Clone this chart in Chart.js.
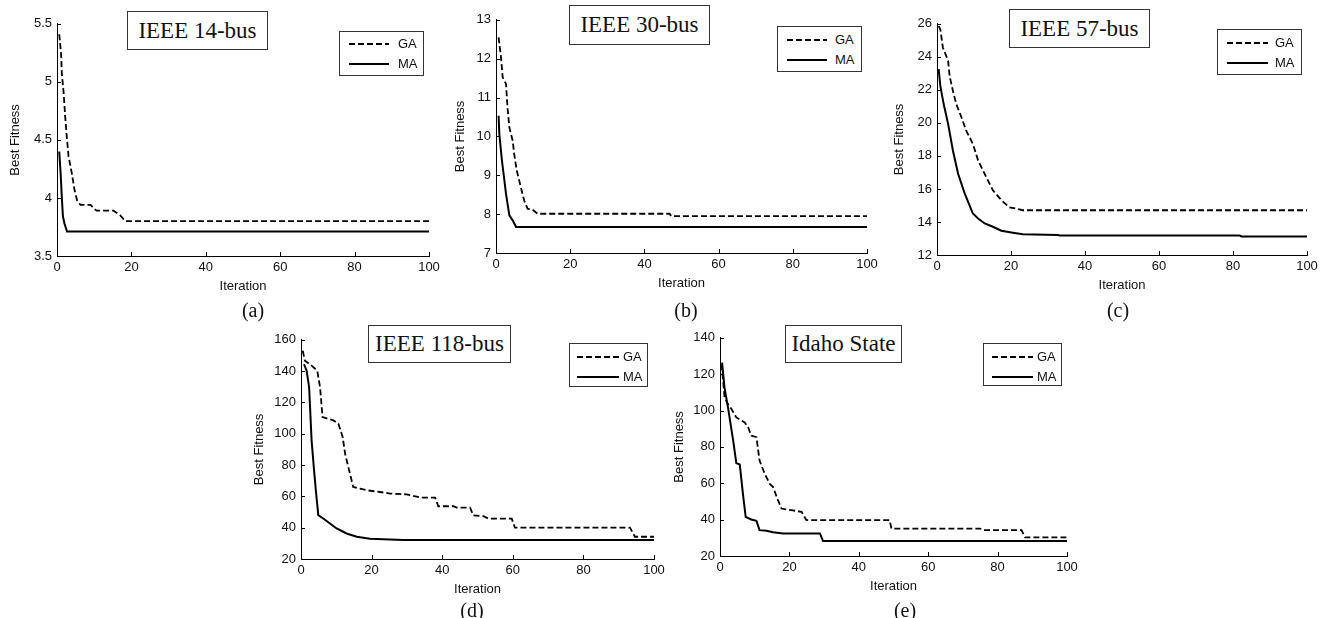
<!DOCTYPE html>
<html>
<head>
<meta charset="utf-8">
<script src="https://cdn.jsdelivr.net/npm/chart.js@4.4.0/dist/chart.umd.min.js"></script>
<style>
  body { margin: 0; background: #fff; width: 1329px; height: 618px; position: relative; overflow: hidden; }
  canvas { position: absolute; }
  .title { position: absolute; box-sizing: border-box; border: 1px solid #333; background: #fff;
    font: 23px "Liberation Serif", "Times New Roman", serif; color: #111;
    display: flex; align-items: center; justify-content: center; }
  .legend { position: absolute; box-sizing: border-box; border: 1px solid #333; background: #fff;
    font: 13px "Liberation Sans", Arial, sans-serif; color: #111; }
  .legend svg, .legend span { position: absolute; }
  .cap { position: absolute; font: 20px "Liberation Serif", "Times New Roman", serif; color: #111;
    transform: translate(-50%, -50%); }
</style>
</head>
<body>
<script>
// iteration / best fitness
const xTicks = [0, 20, 40, 60, 80, 100];

const ga14Iter = [0.6, 1.1, 1.3, 1.8, 2.2, 2.7, 3.1, 4.0, 4.7, 5.4, 6.3, 9.0, 10.6, 15.2, 17.0, 18.4, 100];
const ga14Fit  = [5.41, 5.24, 5.07, 4.90, 4.70, 4.50, 4.36, 4.21, 4.07, 3.98, 3.94, 3.94, 3.89, 3.89, 3.85, 3.80, 3.80];
const ma14Iter = [0.6, 1.0, 1.3, 1.6, 2.0, 2.7, 100];
const ma14Fit  = [4.40, 4.20, 4.00, 3.84, 3.78, 3.71, 3.71];
const y14Ticks = [3.5, 4, 4.5, 5, 5.5];

const ga30Iter = [0.7, 1.35, 1.8, 2.7, 3.1, 3.6, 4.5, 4.9, 5.6, 6.7, 7.6, 8.5, 9.9, 11.2, 46.8, 47.2, 100];
const ga30Fit  = [12.55, 12.03, 11.52, 11.35, 10.75, 10.23, 9.89, 9.55, 9.12, 8.69, 8.35, 8.14, 8.11, 8.01, 8.01, 7.95, 7.95];
const ma30Iter = [0.7, 0.9, 1.6, 2.7, 3.6, 4.5, 5.4, 100];
const ma30Fit  = [10.53, 10.06, 9.38, 8.52, 7.97, 7.84, 7.67, 7.67];
const y30Ticks = [7, 8, 9, 10, 11, 12, 13];

const ga57Iter = [0.45, 0.9, 1.6, 2.5, 3.0, 3.4, 4.3, 5.2, 6.6, 7.9, 9.7, 11.1, 13.3, 15.1, 17.4, 19.6, 21.4, 23.2, 100];
const ga57Fit  = [25.86, 25.66, 24.55, 24.05, 23.75, 22.85, 21.94, 21.14, 20.34, 19.53, 18.73, 17.73, 16.72, 15.92, 15.32, 14.88, 14.81, 14.71, 14.71];
const ma57Iter = [0.45, 0.9, 1.8, 3.0, 4.3, 5.7, 7.5, 9.7, 11.1, 12.9, 15.1, 17.4, 20.5, 23.2, 32.7, 33.2, 81.8, 82.3, 100];
const ma57Fit  = [23.25, 22.24, 21.14, 19.94, 18.33, 16.92, 15.72, 14.51, 14.21, 13.91, 13.71, 13.47, 13.35, 13.25, 13.21, 13.18, 13.18, 13.12, 13.12];
const y57Ticks = [12, 14, 16, 18, 20, 22, 24, 26];

const ga118Iter = [0.5, 1.1, 3.0, 4.6, 5.4, 6.1, 7.7, 9.2, 10.6, 11.8, 12.5, 13.4, 14.8, 16.7, 18.6, 22.4, 25.2, 29.9, 31.8, 34.2, 38.0, 38.9, 43.2, 44.1, 47.9, 48.8, 51.7, 53.1, 59.7, 60.6, 93.2, 94.6, 100];
const ga118Fit  = [153, 146.6, 143.5, 140.3, 129.7, 110.6, 109.5, 108.5, 106.4, 97.9, 87.2, 78.8, 66.0, 65.0, 63.9, 62.8, 61.8, 61.3, 60.3, 59.2, 59.2, 53.7, 53.7, 52.8, 52.8, 47.9, 47.3, 45.8, 45.8, 40.0, 40.0, 34.2, 34.2];
const ma118Iter = [0.85, 1.6, 2.3, 3.0, 3.7, 4.2, 4.9, 6.3, 8.2, 10.1, 12.9, 15.8, 19.5, 25.2, 29, 100];
const ma118Fit  = [144.5, 140.3, 129.7, 95.8, 76.6, 63.9, 48, 45.9, 42.7, 39.5, 36.3, 34.2, 32.9, 32.5, 32.1, 32.1];
const y118Ticks = [20, 40, 60, 80, 100, 120, 140, 160];

const gaIdIter = [0.4, 0.9, 1.3, 2.3, 3.3, 4.7, 7.1, 8.1, 9.0, 10.5, 11.4, 12.9, 14.3, 15.3, 16.7, 17.7, 20.6, 23.5, 24.9, 48.9, 49.4, 74.9, 75.9, 86.9, 87.9, 100];
const gaIdFit  = [125.4, 116.3, 107.2, 103.5, 100.8, 96.2, 93.5, 90.8, 86.2, 85.3, 72.5, 65.2, 59.8, 57.9, 50.7, 46.1, 45.2, 44.3, 39.7, 39.7, 35.1, 35.1, 34.2, 34.2, 30.2, 30.2];
const maIdIter = [0.6, 1.3, 2.3, 3.8, 4.7, 5.7, 6.6, 7.4, 9.0, 10.5, 11.4, 13.4, 15.3, 18.2, 28.8, 29.7, 100];
const maIdFit  = [126.3, 112.6, 101.7, 83.5, 71.1, 70.3, 54.3, 41.5, 40.1, 39.3, 34.2, 33.9, 33.1, 32.4, 32.4, 28.2, 28.2];
const yIdTicks = [20, 40, 60, 80, 100, 120, 140];

const seriesNames = ["GA", "MA"];

// page layout: plot area box, y label centre, title box, legend box + row layout, caption centre
const panels = [
  { title: "IEEE 14-bus", cap: "(a)", ga: [ga14Iter, ga14Fit], ma: [ma14Iter, ma14Fit], yTicks: y14Ticks,
    area: [57, 23, 429, 256], labelX: 15, tbox: [127, 11, 141, 39],
    lbox: [339, 31, 85, 45], lrow: [9, 40, 58, 12], capXY: [253, 310] },
  { title: "IEEE 30-bus", cap: "(b)", ga: [ga30Iter, ga30Fit], ma: [ma30Iter, ma30Fit], yTicks: y30Ticks,
    area: [496, 19, 867, 253], labelX: 460, tbox: [569, 5, 141, 40],
    lbox: [777, 26, 85, 46], lrow: [9, 40, 57, 13], capXY: [686, 310] },
  { title: "IEEE 57-bus", cap: "(c)", ga: [ga57Iter, ga57Fit], ma: [ma57Iter, ma57Fit], yTicks: y57Ticks,
    area: [937, 23, 1307, 255], labelX: 899, tbox: [1009, 9, 141, 39],
    lbox: [1217, 29, 85, 46], lrow: [9, 41, 57, 13], capXY: [1118, 310] },
  { title: "IEEE 118-bus", cap: "(d)", ga: [ga118Iter, ga118Fit], ma: [ma118Iter, ma118Fit], yTicks: y118Ticks,
    area: [301, 339, 654, 559], labelX: 259, tbox: [368, 325, 143, 38],
    lbox: [569, 343, 79, 44], lrow: [7, 42, 53, 13], capXY: [472, 610] },
  { title: "Idaho State", cap: "(e)", ga: [gaIdIter, gaIdFit], ma: [maIdIter, maIdFit], yTicks: yIdTicks,
    area: [720, 337, 1067, 556], labelX: 679, tbox: [785, 325, 117, 38],
    lbox: [983, 343, 79, 43], lrow: [8, 41, 53, 13], capXY: [905, 610] }
];

const Y_W = 57, PAD_T = 12, PAD_R = 16, X_H = 44;
const tickFont = { family: "'Liberation Sans', Arial, sans-serif", size: 13 };

// MATLAB style tick marks pointing into the plot
const inwardTicks = {
  id: "inwardTicks",
  afterDraw(chart) {
    const { ctx, chartArea: a, scales: { x, y } } = chart;
    ctx.save();
    ctx.strokeStyle = "#000";
    ctx.lineWidth = 1;
    ctx.beginPath();
    x.ticks.forEach(t => {
      const px = Math.round(x.getPixelForValue(t.value)) + 0.5;
      ctx.moveTo(px, a.bottom); ctx.lineTo(px, a.bottom - 4);
    });
    y.ticks.forEach(t => {
      const py = Math.round(y.getPixelForValue(t.value)) + 0.5;
      ctx.moveTo(a.left, py); ctx.lineTo(a.left + 4, py);
    });
    ctx.stroke();
    ctx.restore();
  }
};

function pts(pair) {
  return pair[0].map((v, i) => ({ x: v, y: pair[1][i] }));
}

function box(cls, b) {
  const d = document.createElement("div");
  d.className = cls;
  d.style.left = b[0] + "px"; d.style.top = b[1] + "px";
  d.style.width = b[2] + "px"; d.style.height = b[3] + "px";
  document.body.appendChild(d);
  return d;
}

panels.forEach(p => {
  const [x0, y0, x1, y1] = p.area;
  const left = x0 - Y_W, top = y0 - PAD_T;
  const canvas = document.createElement("canvas");
  canvas.width = (x1 - x0) + Y_W + PAD_R;
  canvas.height = (y1 - y0) + PAD_T + X_H;
  canvas.style.left = left + "px";
  canvas.style.top = top + "px";
  document.body.appendChild(canvas);

  const yt = p.yTicks;
  new Chart(canvas.getContext("2d"), {
    type: "line",
    data: {
      datasets: [
        { label: seriesNames[0], data: pts(p.ga), borderColor: "#000", borderWidth: 1.8, borderDash: [6, 3] },
        { label: seriesNames[1], data: pts(p.ma), borderColor: "#000", borderWidth: 2 }
      ]
    },
    options: {
      responsive: false,
      animation: false,
      devicePixelRatio: 1,
      elements: { point: { radius: 0 }, line: { tension: 0, fill: false } },
      layout: { padding: { top: PAD_T, right: PAD_R, left: 0, bottom: 0 } },
      plugins: { legend: { display: false }, tooltip: { enabled: false } },
      scales: {
        x: {
          type: "linear", min: xTicks[0], max: xTicks[xTicks.length - 1],
          afterFit: s => { s.height = X_H; },
          grid: { display: false, drawTicks: false },
          border: { display: true, color: "#000", width: 1 },
          ticks: { stepSize: xTicks[1] - xTicks[0], autoSkip: false, maxRotation: 0, padding: 4,
                   color: "#111", font: tickFont },
          title: { display: true, text: "Iteration", color: "#111", font: tickFont, padding: { top: 0, bottom: 6 } }
        },
        y: {
          type: "linear", min: yt[0], max: yt[yt.length - 1],
          afterFit: s => { s.width = Y_W; },
          grid: { display: false, drawTicks: false },
          border: { display: true, color: "#000", width: 1 },
          ticks: { stepSize: yt[1] - yt[0], autoSkip: false, padding: 5, color: "#111", font: tickFont,
                   callback: v => String(v) },
          title: { display: true, text: "Best Fitness", color: "#111", font: tickFont,
                   padding: { top: p.labelX - left - 7.8, bottom: 0 } }
        }
      }
    },
    plugins: [inwardTicks]
  });

  const t = box("title", p.tbox);
  t.textContent = p.title;

  const [lx, llen, tx, ly] = p.lrow;
  const lg = box("legend", p.lbox);
  seriesNames.forEach((name, i) => {
    const cy = ly + i * 20;
    const svg = document.createElementNS("http://www.w3.org/2000/svg", "svg");
    svg.setAttribute("width", llen); svg.setAttribute("height", "6");
    svg.style.left = lx + "px"; svg.style.top = (cy - 3) + "px";
    const ln = document.createElementNS("http://www.w3.org/2000/svg", "line");
    ln.setAttribute("x1", "0"); ln.setAttribute("x2", llen);
    ln.setAttribute("y1", "3"); ln.setAttribute("y2", "3");
    ln.setAttribute("stroke", "#000"); ln.setAttribute("stroke-width", "2");
    if (i === 0) ln.setAttribute("stroke-dasharray", "6 3");
    svg.appendChild(ln);
    lg.appendChild(svg);
    const s = document.createElement("span");
    s.textContent = name;
    s.style.left = tx + "px";
    s.style.top = (cy - 8) + "px";
    lg.appendChild(s);
  });

  const c = document.createElement("div");
  c.className = "cap";
  c.style.left = p.capXY[0] + "px"; c.style.top = p.capXY[1] + "px";
  c.textContent = p.cap;
  document.body.appendChild(c);
});
</script>
</body>
</html>
